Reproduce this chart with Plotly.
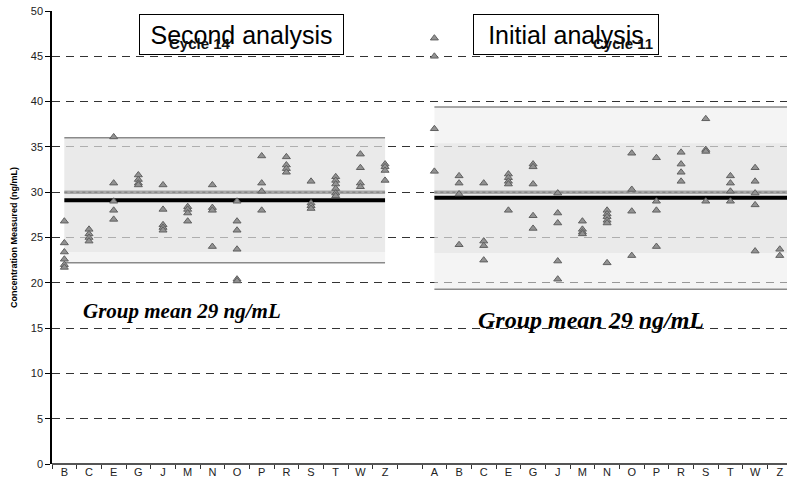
import plotly.graph_objects as go

# ---------------- data ----------------
left_labels = ["B", "C", "E", "G", "J", "M", "N", "O", "P", "R", "S", "T", "W", "Z"]
left_values = [
    [26.8, 24.4, 23.4, 22.6, 22.0, 21.7],
    [25.9, 25.4, 25.0, 24.6],
    [36.1, 31.0, 29.0, 28.0, 27.0],
    [31.9, 31.4, 31.0, 30.8],
    [30.8, 28.1, 26.4, 26.1, 25.8],
    [28.4, 28.1, 27.7, 26.8],
    [30.8, 28.3, 28.0, 24.0],
    [29.0, 26.8, 25.8, 23.7, 20.4, 20.2],
    [34.0, 31.0, 30.1, 28.0],
    [33.9, 33.0, 32.6, 32.2],
    [31.2, 28.8, 28.5, 28.2],
    [31.7, 31.3, 30.9, 30.4, 29.9, 29.6],
    [34.2, 32.7, 31.0, 30.6],
    [33.1, 32.8, 32.4, 31.3],
]
right_labels = ["A", "B", "C", "E", "G", "J", "M", "N", "O", "P", "R", "S", "T", "W", "Z"]
right_values = [
    [47.0, 45.0, 37.0, 32.3],
    [31.8, 31.0, 29.8, 24.2],
    [31.0, 24.6, 24.1, 22.5],
    [32.0, 31.6, 31.2, 30.9, 28.0],
    [33.1, 32.8, 30.9, 27.4, 26.0],
    [29.9, 27.7, 26.6, 22.4, 20.4],
    [26.8, 25.9, 25.6, 25.4],
    [28.0, 27.6, 27.3, 26.9, 26.6, 22.2],
    [34.3, 30.3, 27.9, 23.0],
    [33.8, 29.0, 28.0, 24.0],
    [34.4, 33.1, 32.2, 31.2],
    [38.1, 34.7, 34.5, 29.0],
    [31.8, 31.0, 30.1, 29.0],
    [32.7, 31.2, 29.9, 28.6, 23.5],
    [23.7, 23.0],
]
# band statistics (ng/mL)
target_value = 30.0
left_mean, left_outer, left_inner = 29.1, (22.2, 36.0), (23.4, 36.0)
right_mean, right_outer, right_inner = 29.4, (19.3, 39.4), (23.3, 35.4)
y_ticks = [0, 5, 10, 15, 20, 25, 30, 35, 40, 45, 50]

# ---------------- positions ----------------
gap = 1
n_left = len(left_labels)
left_pos = [i + 0.5 for i in range(n_left)]
right_pos = [n_left + gap + i + 0.5 for i in range(len(right_labels))]
all_pos = left_pos + right_pos
all_labels = left_labels + right_labels
n_total = n_left + gap + len(right_labels)

xs, ys = [], []
for p, vals in zip(left_pos, left_values):
    xs += [p] * len(vals)
    ys += vals
for p, vals in zip(right_pos, right_values):
    xs += [p] * len(vals)
    ys += vals

fig = go.Figure()
fig.add_trace(go.Scatter(
    x=xs, y=ys, mode="markers",
    marker=dict(symbol="triangle-up", size=7, color="#929292",
                line=dict(color="#606060", width=1)),
    showlegend=False, hoverinfo="y",
))

shapes = []
def band(x0, x1, lo, hi, color):
    shapes.append(dict(type="rect", xref="x", yref="y", x0=x0, x1=x1, y0=lo, y1=hi,
                       fillcolor=color, line=dict(width=0), layer="between"))
def hline(x0, x1, y, color, width, dash="solid"):
    shapes.append(dict(type="line", xref="x", yref="y", x0=x0, x1=x1, y0=y, y1=y,
                       line=dict(color=color, width=width, dash=dash), layer="between"))

lx0, lx1 = left_pos[0], left_pos[-1]
rx0, rx1 = right_pos[0], n_total + 1
for (x0, x1, outer, inner, mean) in [
    (lx0, lx1, left_outer, left_inner, left_mean),
    (rx0, rx1, right_outer, right_inner, right_mean),
]:
    band(x0, x1, outer[0], outer[1], "rgba(235,235,235,0.55)")
    band(x0, x1, inner[0], inner[1], "rgba(215,215,215,0.35)")
    hline(x0, x1, outer[1], "#8a8a8a", 1.5)
    hline(x0, x1, outer[0], "#8a8a8a", 1.5)
    hline(x0, x1, target_value, "#a8a8a8", 3.5)
    hline(x0, x1, target_value, "#7a7a7a", 1, "dot")
    hline(x0, x1, mean, "#000000", 4)

annotations = [
    dict(x=(lx0 + lx1) / 2 + 0.7, y=47.4, xref="x", yref="y", text="Second analysis",
         showarrow=False, font=dict(family="Liberation Sans, Arial", size=25, color="#000"),
         bordercolor="#000", borderwidth=1, borderpad=5, bgcolor="#fff", width=193, height=29),
    dict(x=6.0, y=46.4, xref="x", yref="y", text="<b>Cycle 14</b>", showarrow=False,
         font=dict(family="Liberation Sans, Arial", size=15, color="#111")),
    dict(x=20.84, y=47.45, xref="x", yref="y", text="Initial analysis",
         showarrow=False, font=dict(family="Liberation Sans, Arial", size=25, color="#000"),
         bordercolor="#000", borderwidth=1, borderpad=5, bgcolor="#fff", width=174, height=29),
    dict(x=23.15, y=46.4, xref="x", yref="y", text="<b>Cycle 11</b>", showarrow=False,
         font=dict(family="Liberation Sans, Arial", size=15, color="#111")),
    dict(x=5.25, y=16.9, xref="x", yref="y", text="<b><i>Group mean 29 ng/mL</i></b>",
         showarrow=False, font=dict(family="Liberation Serif, Times New Roman", size=21, color="#000")),
    dict(x=21.85, y=15.9, xref="x", yref="y", text="<b><i>Group mean 29 ng/mL</i></b>",
         showarrow=False, font=dict(family="Liberation Serif, Times New Roman", size=24, color="#000")),
]

fig.update_layout(
    width=787, height=489,
    margin=dict(l=52, r=0, t=11, b=25),
    paper_bgcolor="#ffffff", plot_bgcolor="#ffffff",
    shapes=shapes, annotations=annotations,
    font=dict(family="Liberation Sans, Arial", size=11, color="#222"),
    xaxis=dict(
        range=[0, (787 - 52) / 24.67], tickmode="array", tickvals=all_pos, ticktext=all_labels,
        ticks="", showgrid=False, zeroline=False, showline=False,
        tickfont=dict(size=11, color="#222"),
        minor=dict(tickmode="linear", tick0=0, dtick=1, ticks="outside", ticklen=4,
                   tickcolor="#333", showgrid=False),
    ),
    yaxis=dict(
        range=[0, 50], tickvals=y_ticks, ticks="outside", ticklen=5, tickcolor="#000",
        showline=True, linecolor="#000", linewidth=1.5,
        showgrid=True, gridcolor="#333", griddash="8px,6px", gridwidth=1,
        zeroline=True, zerolinecolor="#555", zerolinewidth=1.5,
        tickfont=dict(size=11, color="#222"),
        title=dict(text="<b>Concentration Measured (ng/mL)</b>", standoff=12,
                   font=dict(size=9, color="#000")),
    ),
)

fig.write_html("out.html")
